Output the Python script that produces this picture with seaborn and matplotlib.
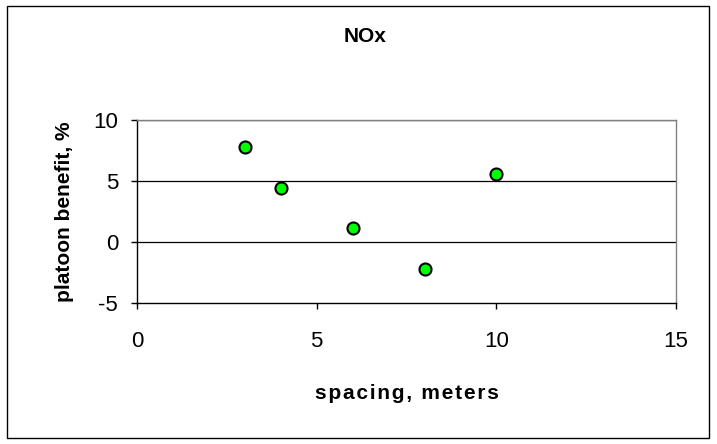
import pandas as pd
import seaborn as sns
import matplotlib.pyplot as plt
from matplotlib.patches import Rectangle

# Data
spacing = [3, 4, 6, 8, 10]
benefit = [7.8, 4.4, 1.1, -2.2, 5.6]
x_ticks = [0, 5, 10, 15]
y_ticks = [-5, 0, 5, 10]

df = pd.DataFrame({'spacing': spacing, 'benefit': benefit})

sns.set_style('white')
plt.rcParams['font.family'] = ['Liberation Sans', 'DejaVu Sans']
plt.rcParams['axes.unicode_minus'] = False
plt.rcParams['text.color'] = 'black'
plt.rcParams['axes.labelcolor'] = 'black'

fig = plt.figure(figsize=(7.17, 4.44), dpi=100)
ax = fig.add_axes([0.191, 0.318, 0.752, 0.412])

# outer frame
fig.patches.append(Rectangle((7 / 717, 6 / 444), 702 / 717, 432 / 444,
                             transform=fig.transFigure, fill=False,
                             edgecolor='black', linewidth=1))

sns.scatterplot(
    x='spacing',
    y='benefit',
    data=df,
    ax=ax,
    color='#00ff00',
    edgecolor='black',
    linewidth=1.5,
    s=75,
    zorder=3
)

ax.set_xlim(0, 15)
ax.set_ylim(-5, 10)
ax.set_xticks(x_ticks)
ax.set_yticks(y_ticks)
ax.tick_params(axis='both', labelsize=16, direction='out', length=4.5,
               width=1, color='black', labelcolor='black',
               left=True, bottom=True)
ax.tick_params(axis='x', pad=16)
ax.tick_params(axis='y', pad=9)
for v in [0, 5, 10]:
    ax.axhline(v, color='black', linewidth=0.9, zorder=1)

ax.spines['left'].set_color('black')
ax.spines['bottom'].set_color('black')
ax.spines['right'].set_color('#808080')
ax.spines['top'].set_color('#808080')
for s in ax.spines.values():
    s.set_linewidth(1)

xlab = '\u200a'.join('spacing, meters')
ax.set_xlabel(xlab, fontsize=15, fontweight='bold', labelpad=23)
ax.set_ylabel('platoon benefit, %', fontsize=15, fontweight='bold', labelpad=14)
fig.text(0.509, 0.917, 'NOx', fontsize=15, fontweight='bold',
         ha='center', va='center')

plt.savefig('out.png', dpi=100)
